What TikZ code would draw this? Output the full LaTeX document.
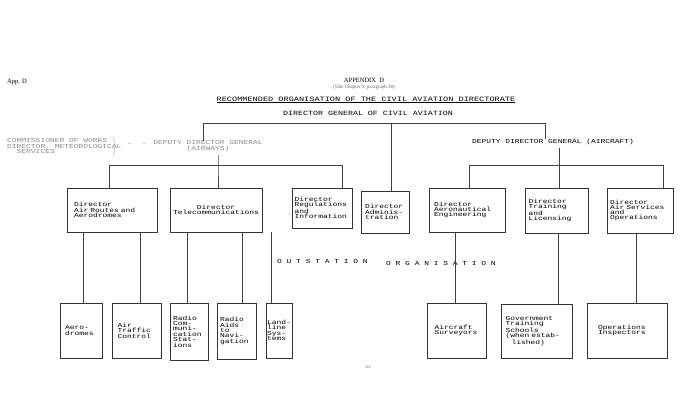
\documentclass[tikz,border=0pt]{standalone}
\usepackage{fontspec}
\setmainfont{Liberation Serif}
\newfontfamily\tw[FakeStretch=1.3]{Liberation Mono}
\usetikzlibrary{decorations.pathreplacing}
\begin{document}
\begin{tikzpicture}[x=1pt,y=-1pt,
  every node/.style={inner sep=0pt},
  tt/.style={font=\tw\fontsize{6.1}{5.2}\selectfont},
  ttb/.style={font=\tw\fontsize{6.1}{5.4}\selectfont},
  box/.style={draw=black!80, line width=0.6pt, tt, align=left},
  bbox/.style={draw=black!80, line width=0.6pt, ttb, align=left},
  ln/.style={draw=black!75, line width=0.5pt},
  faint/.style={text=black!45}]
\useasboundingbox (0,0) rectangle (700,414);
\fill[white] (0,0) rectangle (700,414);
% headings
\node[font=\fontsize{6.5}{7}\selectfont, anchor=west] (appd) at (7,82) {App. D};
\node[font=\fontsize{6.5}{7}\selectfont] (appx) at (364,80) {APPENDIX\enspace D};
\node[font=\fontsize{5}{6}\selectfont, text=black!60] (vide) at (364,87) {(\textit{Vide} Chapter 3, paragraph 38)};
\node[font=\tw\fontsize{6.6}{7}\selectfont] (title) at (366,100) {\underline{RECOMMENDED ORGANISATION OF THE CIVIL AVIATION DIRECTORATE}};
\node[font=\tw\fontsize{6.4}{7}\selectfont] (dg) at (368,113) {DIRECTOR GENERAL OF CIVIL AVIATION};
% second level
\node[tt, faint, align=left, anchor=west] (comm) at (7,146) {COMMISSIONER OF WORKS\\DIRECTOR, METEOROLOGICAL\\\ \ SERVICES};
\node[tt, faint] (dash) at (137,145) {-\ \ -};
\node[tt, faint, align=center] (ddga) at (208,146) {DEPUTY DIRECTOR GENERAL\\(AIRWAYS)};
\node[tt] (ddgc) at (553,142) {DEPUTY DIRECTOR GENERAL (AIRCRAFT)};
\draw[black!45, decorate, decoration={brace, amplitude=2.5pt}] (113,138) -- (113,155);
% directors
\node[box, minimum width=90pt, minimum height=44pt, text width=76pt] (ar) at (112,210) {Director\\Air Routes and\\Aerodromes};
\node[box, minimum width=92pt, minimum height=44pt, align=center] (tel) at (216,210) {Director\\Telecommunications};
\node[box, minimum width=60pt, minimum height=40pt, text width=55pt] (reg) at (322,208) {Director\\Regulations\\and\\Information};
\node[box, minimum width=48pt, minimum height=42pt, text width=40pt] (adm) at (385,212) {Director\\Adminis-\\tration};
\node[box, minimum width=76pt, minimum height=44pt, text width=66pt] (aero) at (467,210) {Director\\Aeronautical\\Engineering};
\node[box, minimum width=63pt, minimum height=45pt, text width=56pt] (trn) at (556.5,210.5) {Director\\Training\\and\\Licensing};
\node[box, minimum width=66pt, minimum height=45pt, text width=60pt] (asv) at (640,210.5) {Director\\Air Services\\and\\Operations};
% outstation
\node[bbox, minimum width=42pt, minimum height=55pt, text width=32pt] (aerod) at (81,330.5) {Aero-\\dromes};
\node[bbox, minimum width=49pt, minimum height=55pt, text width=38pt] (atc) at (136.5,330.5) {Air\\Traffic\\Control};
\node[bbox, minimum width=38pt, minimum height=57pt, text width=32pt] (rcom) at (189,331.5) {Radio\\Com-\\muni-\\cation\\Stat-\\ions};
\node[bbox, minimum width=39pt, minimum height=56pt, text width=33pt] (raid) at (236.5,331) {Radio\\Aids\\to\\Navi-\\gation};
\node[bbox, minimum width=26pt, minimum height=55pt, text width=24pt] (land) at (279,330.5) {Land-\\line\\Sys-\\tems};
\node[bbox, minimum width=59pt, minimum height=55pt, text width=44pt] (surv) at (456.5,330.5) {Aircraft\\Surveyors};
\node[bbox, minimum width=71pt, minimum height=54pt, text width=62pt] (govt) at (536.5,331) {Government\\Training\\Schools\\(when estab-\\\ \ \ lished)};
\node[bbox, minimum width=80pt, minimum height=55pt, text width=58pt] (ops) at (627,330.5) {Operations\\Inspectors};
\node[tt, anchor=west] (outs) at (277,261) {O U T S T A T I O N};
\node[tt, anchor=west] (orgn) at (386,263) {O R G A N I S A T I O N};
\node[font=\fontsize{4.5}{5}\selectfont, text=black!60] (page) at (368,367) {111};
% connectors top
\coordinate (dl) at (203,123);
\coordinate (dr) at (545,123);
\draw[ln] (dl |- ddga.north) -- (dl) -- (dr) -- (dr |- ddgc.north);
\draw[ln] (391,123) -- (adm.north -| 391,0);
\coordinate (al) at (109,165);
\coordinate (ar2) at (342,165);
\draw[ln] (ar.north -| al) -- (al) -- (ar2) -- (reg.north -| ar2);
\draw[ln] (218,155) -- (218,165) -- (tel.north -| 218,0);
\coordinate (cl) at (469,165);
\coordinate (cr) at (663,165);
\draw[ln] (aero.north -| cl) -- (cl) -- (cr) -- (asv.north -| cr);
\draw[ln] (559,148) -- (559,165) -- (trn.north -| 559,0);
% connectors down
\draw[ln] (ar.south -| 83,0) -- (aerod.north -| 83,0);
\draw[ln] (ar.south -| 140,0) -- (atc.north -| 140,0);
\draw[ln] (tel.south -| 187,0) -- (rcom.north -| 187,0);
\draw[ln] (tel.south -| 242,0) -- (raid.north -| 242,0);
\draw[ln] (tel.south -| 271,0) -- (land.north -| 271,0);
\draw[ln] (aero.south -| 455,0) -- (surv.north -| 455,0);
\draw[ln] (trn.south -| 558,0) -- (govt.north -| 558,0);
\draw[ln] (asv.south -| 636,0) -- (ops.north -| 636,0);
\end{tikzpicture}
\end{document}
